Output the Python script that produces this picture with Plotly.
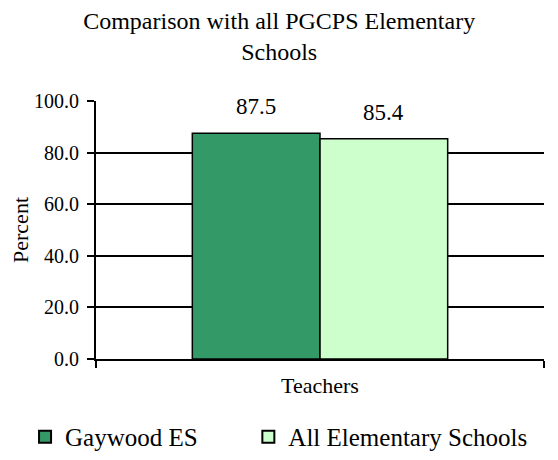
import plotly.graph_objects as go

categories = ["Teachers"]
series_names = ["Gaywood ES", "All Elementary Schools"]
series_values = [[87.5], [85.4]]
series_colors = ["#339966", "#CCFFCC"]
y_ticks = [0, 20, 40, 60, 80, 100]
y_tick_labels = ["0.0", "20.0", "40.0", "60.0", "80.0", "100.0"]

FONT = "Liberation Serif"

fig = go.Figure()
legend_ids = ["legend", "legend2"]
for name, vals, col, lg in zip(series_names, series_values, series_colors, legend_ids):
    fig.add_trace(go.Bar(
        x=categories, y=vals, name=name,
        marker=dict(color=col, line=dict(color="black", width=1.5)),
        offsetgroup=name, legend=lg,
    ))

# value labels
offsets = [-0.1428, 0.1428]
for vals, off in zip(series_values, offsets):
    for i, v in enumerate(vals):
        fig.add_annotation(
            x=i + off, y=v, xref="x", yref="y",
            text=f"{v:.1f}", showarrow=False,
            yanchor="bottom", yshift=12,
            font=dict(family=FONT, size=23, color="black"),
        )

legend_common = dict(
    orientation="h", xanchor="left", xref="container",
    y=0.051, yanchor="middle", yref="container",
    font=dict(family=FONT, size=25, color="black"),
    itemsizing="constant", bgcolor="rgba(0,0,0,0)",
)

fig.update_layout(
    width=550, height=452,
    margin=dict(l=88, r=14, t=93, b=101, autoexpand=False),
    paper_bgcolor="white", plot_bgcolor="white",
    barmode="group", bargap=0.43, bargroupgap=0,
    font=dict(family=FONT, size=20, color="black"),
    title=dict(
        text="Comparison with all PGCPS Elementary<br>Schools",
        x=0.493, xanchor="center", y=0.954, yanchor="middle",
        font=dict(family=FONT, size=24, color="black"),
    ),
    showlegend=True,
    legend=dict(x=0.031, **legend_common),
    legend2=dict(x=0.437, **legend_common),
    xaxis=dict(
        type="category", tickson="boundaries", ticks="outside", ticklen=7,
        tickwidth=2, tickcolor="black", automargin=False,
        showline=True, linecolor="black", linewidth=2,
        showgrid=False, tickfont=dict(family=FONT, size=22),
        ticklabelstandoff=6,
    ),
    yaxis=dict(
        range=[0, 100], tickvals=y_ticks, ticktext=y_tick_labels,
        ticks="outside", ticklen=7, tickwidth=2, tickcolor="black",
        automargin=False,
        showline=True, linecolor="black", linewidth=2,
        showgrid=True, gridcolor="black", gridwidth=1.5,
        zeroline=False,
        title=dict(text="Percent", font=dict(family=FONT, size=22), standoff=8),
        tickfont=dict(family=FONT, size=20),
        ticklabelstandoff=4,
    ),
)

fig.write_html("out.html")
